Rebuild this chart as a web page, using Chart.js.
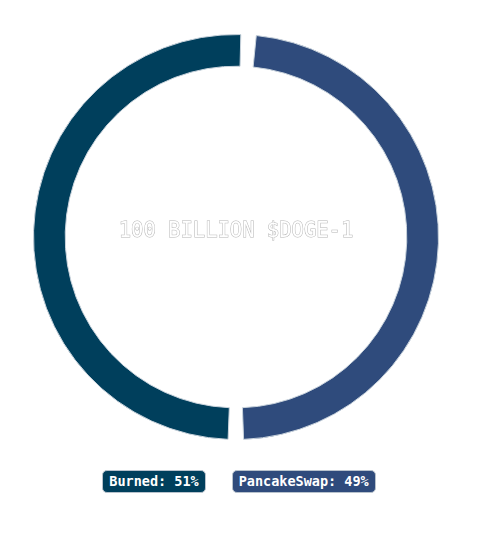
<!DOCTYPE html>
<html>
<head>
<meta charset="utf-8">
<script src="https://cdn.jsdelivr.net/npm/chart.js@4"></script>
<style>
  html, body { margin: 0; padding: 0; background: #fff; }
  #wrap { position: relative; width: 484px; height: 460px; }
  #legend { position: absolute; top: 470px; left: 0; width: 478px; display: flex; justify-content: center; gap: 26px; }
  .item { font-family: "DejaVu Sans Mono", monospace; font-weight: bold; font-size: 13.5px; color: #fff;
          padding: 0 6px; height: 21px; line-height: 21px; border-radius: 5px; border: 1px solid #b8c2cc; }
</style>
</head>
<body>
<div id="wrap"><canvas id="c" width="484" height="460"></canvas></div>
<div id="legend"></div>
<script>
const categories = ["Burned", "PancakeSwap"];
const shares = [51, 49];
const colors = ["#003f5c", "#2f4b7c"];
const centerLabel = "100 BILLION $DOGE-1";

const centerText = {
  id: "centerText",
  afterDatasetsDraw(chart) {
    const meta = chart.getDatasetMeta(0);
    const arc = meta.data[0];
    const ctx = chart.ctx;
    ctx.save();
    ctx.font = "20.5px 'DejaVu Sans Mono', monospace";
    ctx.textAlign = "center";
    ctx.textBaseline = "middle";
    ctx.lineWidth = 1;
    ctx.strokeStyle = "#b4b4b4";
    ctx.fillStyle = "#ffffff";
    ctx.strokeText(centerLabel, arc.x, arc.y - 5);
    ctx.fillText(centerLabel, arc.x, arc.y - 5);
    ctx.restore();
  }
};

new Chart(document.getElementById("c"), {
  type: "doughnut",
  data: {
    labels: categories,
    datasets: [{
      data: shares,
      backgroundColor: colors,
      borderColor: "#c9d3dc",
      borderWidth: 1,
      spacing: 9
    }]
  },
  options: {
    responsive: false,
    animation: false,
    cutout: "84%",
    rotation: 180,
    layout: { padding: { top: 34, bottom: 20, left: 0, right: 12 } },
    plugins: { legend: { display: false }, tooltip: { enabled: false } }
  },
  plugins: [centerText]
});

const legend = document.getElementById("legend");
categories.forEach((c, i) => {
  const d = document.createElement("div");
  d.className = "item";
  d.style.background = colors[i];
  d.textContent = c + ": " + shares[i] + "%";
  legend.appendChild(d);
});
</script>
</body>
</html>
